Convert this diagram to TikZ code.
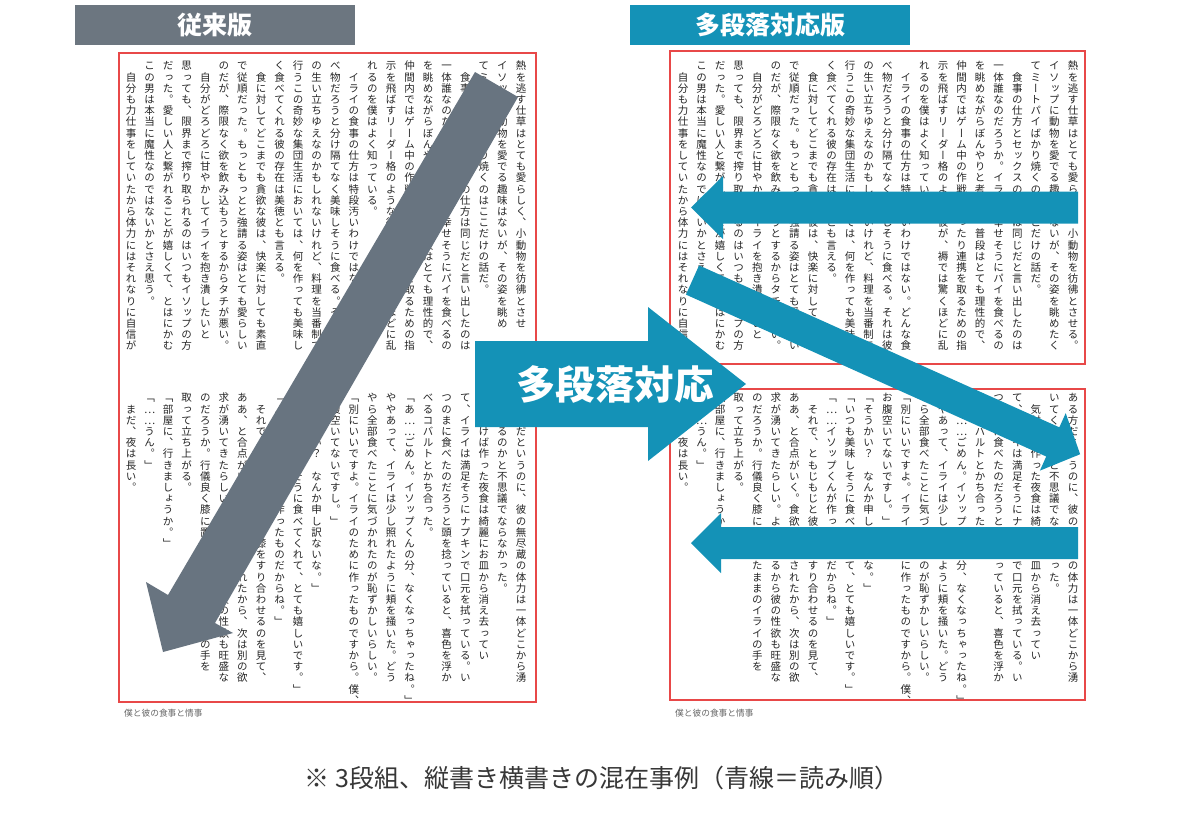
\documentclass[tikz,border=0pt]{standalone}
\usepackage{fontspec}
\newfontfamily\jp{Noto Sans CJK JP}
\newfontfamily\jpv[RawFeature=+vert]{Noto Sans CJK JP}
\definecolor{pagered}{RGB}{232,72,72}
\definecolor{hdrgray}{RGB}{108,118,128}
\definecolor{arrgray}{RGB}{104,116,128}
\definecolor{tealblue}{RGB}{20,146,183}
\definecolor{inkc}{RGB}{38,38,38}
\definecolor{capc}{RGB}{55,55,55}
\newcommand\vtxstop{}
\def\vtx#1{\ifx#1\vtxstop\else\vch{#1}\expandafter\vtx\fi}
\newcommand\vch[1]{\hbox to 10.5pt{\hss\vrule height 9.6pt depth 1.6pt width 0pt\relax#1\hss}}
\newcommand\vtxt[1]{\vbox{\offinterlineskip\expandafter\vtx#1\vtxstop}}
\tikzset{
  col/.style={inner sep=0pt, anchor=north, text=inkc, font=\jpv\fontsize{10.5}{11}\selectfont},
  redbox/.style={draw=pagered, line width=1.4pt},
  hdr/.style={inner sep=0pt, minimum width=280pt, minimum height=40pt, text=white, font=\jp\bfseries\fontsize{25}{30}\selectfont},
  foot/.style={inner sep=0pt, anchor=west, text=black!60, font=\jp\fontsize{8.7}{10}\selectfont},
  bigtxt/.style={inner sep=0pt, text=white, font=\jp\bfseries\fontsize{39.5}{44}\selectfont},
  captext/.style={inner sep=0pt, text=capc, font=\jp\fontsize{25}{29}\selectfont},
}
\begin{document}
\begin{tikzpicture}[x=1pt,y=-1pt]
\useasboundingbox (0,0) rectangle (1200,820);
\fill[white] (0,0) rectangle (1200,820);
% page frames
\draw[redbox] (119,53) rectangle (536,702);
\draw[redbox] (670,51) rectangle (1085,364);
\draw[redbox] (670,389) rectangle (1085,700);
% left page, upper tier
\foreach \t [count=\i] in {
熱を逃す仕草はとても愛らしく、小動物を彷彿とさせ,
イソップに動物を愛でる趣味はないが、その姿を眺め,
てミートパイばかり焼くのはここだけの話だ。,
　食事の仕方とセックスの仕方は同じだと言い出したのは,
一体誰なのだろうか。イライが幸せそうにパイを食べるの,
を眺めながらぼんやりと考える。普段はとても理性的で、,
仲間内ではゲーム中の作戦を練ったり連携を取るための指,
示を飛ばすリーダー格のような彼が、褥では驚くほどに乱,
れるのを僕はよく知っている。,
　イライの食事の仕方は特段汚いわけではない。どんな食,
べ物だろうと分け隔てなく美味しそうに食べる。それは彼,
の生い立ちゆえなのかもしれないけれど、料理を当番制で,
行うこの奇妙な集団生活においては、何を作っても美味し,
く食べてくれる彼の存在は美徳とも言える。,
　食に対してどこまでも貪欲な彼は、快楽に対しても素直,
で従順だった。もっともっとと強請る姿はとても愛らしい,
のだが、際限なく欲を飲み込もうとするからタチが悪い。,
　自分がどろどろに甘やかしてイライを抱き潰したいと,
思っても、限界まで搾り取られるのはいつもイソップの方,
だった。愛しい人と繋がれることが嬉しくて、とはにかむ,
この男は本当に魔性なのではないかとさえ思う。,
　自分も力仕事をしていたから体力にはそれなりに自信が}
{\node[col] (lt\i) at ({521-(\i-1)*18.57},60) {\vtxt\t};}
% lower tier text (both pages)
\foreach \t [count=\i] in {
ある方だというのに、彼の無尽蔵の体力は一体どこから湧,
いてくるのかと不思議でならなかった。,
　気付けば作った夜食は綺麗にお皿から消え去ってい,
て、イライは満足そうにナプキンで口元を拭っている。い,
つのまに食べたのだろうと頭を捻っていると、喜色を浮か,
べるコバルトとかち合った。,
「あ……ごめん。イソップくんの分、なくなっちゃったね。」,
ややあって、イライは少し照れたように頬を掻いた。どう,
やら全部食べたことに気づかれたのが恥ずかしいらしい。,
「別にいいですよ。イライのために作ったものですから。僕、,
お腹空いてないですし。」,
「そうかい？　なんか申し訳ないな。」,
「いつも美味しそうに食べてくれて、とても嬉しいです。」,
「……イソップくんが作ったものだからね。」,
　それで、ともじもじと彼が膝をすり合わせるのを見て、,
ああ、と合点がいく。食欲が満たされたから、次は別の欲,
求が湧いてきたらしい。よく食べるから彼の性欲も旺盛な,
のだろうか。行儀良く膝に置かれたままのイライの手を,
取って立ち上がる。,
「部屋に、行きましょうか。」,
「……うん。」,
　まだ、夜は長い。}
{\node[col] (lb\i) at ({521-(\i-1)*18.57},392) {\vtxt\t};
 \node[col] (rb\i) at ({1073-(\i-1)*18.57},392) {\vtxt\t};}
% right page, upper box
\foreach \t [count=\i] in {
熱を逃す仕草はとても愛らしく、小動物を彷彿とさせる。,
イソップに動物を愛でる趣味はないが、その姿を眺めたく,
てミートパイばかり焼くのはここだけの話だ。,
　食事の仕方とセックスの仕方は同じだと言い出したのは,
一体誰なのだろうか。イライが幸せそうにパイを食べるの,
を眺めながらぼんやりと考える。普段はとても理性的で、,
仲間内ではゲーム中の作戦を練ったり連携を取るための指,
示を飛ばすリーダー格のような彼が、褥では驚くほどに乱,
れるのを僕はよく知っている。,
　イライの食事の仕方は特段汚いわけではない。どんな食,
べ物だろうと分け隔てなく美味しそうに食べる。それは彼,
の生い立ちゆえなのかもしれないけれど、料理を当番制で,
行うこの奇妙な集団生活においては、何を作っても美味し,
く食べてくれる彼の存在は美徳とも言える。,
　食に対してどこまでも貪欲な彼は、快楽に対しても素直,
で従順だった。もっともっとと強請る姿はとても愛らしい,
のだが、際限なく欲を飲み込もうとするからタチが悪い。,
　自分がどろどろに甘やかしてイライを抱き潰したいと,
思っても、限界まで搾り取られるのはいつもイソップの方,
だった。愛しい人と繋がれることが嬉しくて、とはにかむ,
この男は本当に魔性なのではないかとさえ思う。,
　自分も力仕事をしていたから体力にはそれなりに自信が}
{\node[col] (rt\i) at ({1073-(\i-1)*18.57},60) {\vtxt\t};}
% footers
\node[foot] (f1) at (124,713) {僕と彼の食事と情事};
\node[foot] (f2) at (675,713) {僕と彼の食事と情事};
% gray reading-order arrow (left page)
\fill[arrgray] (475,72) -- (518,97) -- (215,623) -- (233,633) -- (163,652)
  -- (146,582) -- (168,595) -- cycle;
% blue reading-order arrows (right page)
\fill[tealblue] (1078,191.5) -- (723,191.5) -- (723,176) -- (691,207.5)
  -- (723,239) -- (723,223.5) -- (1078,223.5) -- cycle;
\fill[tealblue] (699.06,265.41) -- (1059.34,427.32) -- (1065.69,413.18)
  -- (1080.14,454.21) -- (1039.87,470.64) -- (1046.22,456.50) -- (685.94,294.59) -- cycle;
\fill[tealblue] (1078,527) -- (721,527) -- (721,513) -- (691,543)
  -- (721,573) -- (721,559) -- (1078,559) -- cycle;
% big transition arrow
\fill[tealblue] (475,341) -- (648,341) -- (648,307) -- (746,384) -- (648,461)
  -- (648,427) -- (475,427) -- cycle;
\node[bigtxt] (lab) at (615,384) {多段落対応};
% headers
\node[hdr, fill=hdrgray] (h1) at (215,25) {従来版};
\node[hdr, fill=tealblue] (h2) at (770,25) {多段落対応版};
% caption
\node[captext] (caption) at (602,778) {※ 3段組、縦書き横書きの混在事例（青線＝読み順）};
\end{tikzpicture}
\end{document}
